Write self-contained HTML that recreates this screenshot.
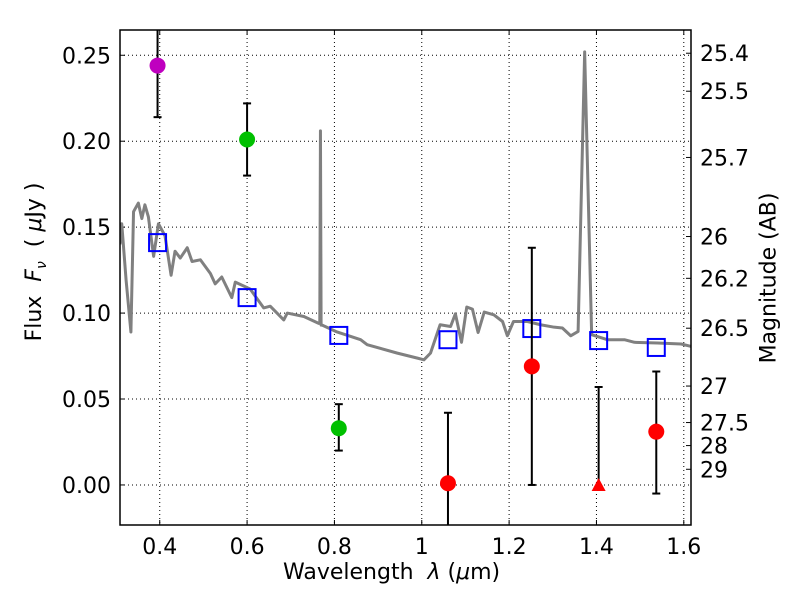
<!DOCTYPE html>
<html><head><meta charset="utf-8"><style>
body{margin:0;background:#fff;}
svg{display:block;font-family:"DejaVu Sans","Liberation Sans",sans-serif;}
</style></head><body>
<svg id="chart" width="800" height="600"></svg>
<script>
const specLam=[0.309,0.313,0.323,0.334,0.340,0.351,0.359,0.366,0.374,0.386,0.397,0.412,0.426,0.435,0.447,0.463,0.474,0.493,0.516,0.527,0.542,0.565,0.573,0.607,0.638,0.653,0.684,0.692,0.730,0.764,0.7665,0.768,0.7695,0.772,0.806,0.860,0.875,0.944,0.990,1.005,1.020,1.042,1.066,1.077,1.091,1.103,1.116,1.129,1.143,1.165,1.185,1.196,1.210,1.242,1.272,1.303,1.322,1.341,1.358,1.373,1.389,1.425,1.464,1.487,1.540,1.594,1.617];
const specFlux=[0.140,0.152,0.119,0.089,0.159,0.164,0.155,0.163,0.156,0.133,0.152,0.145,0.122,0.136,0.132,0.138,0.130,0.131,0.123,0.117,0.121,0.109,0.118,0.114,0.103,0.104,0.096,0.100,0.098,0.094,0.094,0.206,0.093,0.093,0.089,0.0845,0.0816,0.0767,0.0738,0.0728,0.0767,0.0932,0.0922,0.0996,0.083,0.1035,0.1023,0.0887,0.1006,0.099,0.0951,0.0868,0.0951,0.0951,0.0932,0.0918,0.0913,0.0868,0.0893,0.252,0.0874,0.0845,0.0845,0.083,0.0826,0.082,0.0806];
const modelLam=[0.395,0.60,0.81,1.06,1.252,1.405,1.537];
const modelFlux=[0.141,0.109,0.087,0.0845,0.091,0.084,0.080];
const obsLam=[0.395,0.60,0.81,1.06,1.252,1.537];
const obsFlux=[0.244,0.201,0.033,0.001,0.069,0.031];
const obsLo=[0.214,0.180,0.020,-0.04,0.000,-0.005];
const obsHi=[0.274,0.222,0.047,0.042,0.138,0.066];
const obsColor=['#bf00bf','#00c000','#00c000','red','red','red'];
const limLam=[1.405];const limFlux=[0.0];const limHi=[0.057];
const xTicks=[0.4,0.6,0.8,1.0,1.2,1.4,1.6];
const xTickLabels=['0.4','0.6','0.8','1','1.2','1.4','1.6'];
const yTicks=[0,0.05,0.10,0.15,0.20,0.25];
const yTickLabels=['0.00','0.05','0.10','0.15','0.20','0.25'];
const magTicks=[25.4,25.5,25.7,26,26.2,26.5,27,27.5,28,29];

const L=120,R=691,T=30,B=525,xmin=0.309,xmax=1.6165,ymin=-0.0233,ymax=0.2647;
const X=v=>L+(v-xmin)/(xmax-xmin)*(R-L);
const Y=v=>B-(v-ymin)/(ymax-ymin)*(B-T);
const svg=document.getElementById('chart');const NS='http://www.w3.org/2000/svg';
function mk(tag,attrs,parent){const e=document.createElementNS(NS,tag);for(const k in attrs)e.setAttribute(k,attrs[k]);(parent||svg).appendChild(e);return e;}
const clip=mk('clipPath',{id:'pc'});mk('rect',{x:L,y:T,width:R-L,height:B-T},clip);
xTicks.forEach((t,i)=>{
 const g=mk('line',{x1:X(t),x2:X(t),y1:T,y2:B,stroke:'#000','stroke-width':1,'stroke-dasharray':'1,3'});
 
 mk('line',{x1:X(t),x2:X(t),y1:B,y2:B-5,stroke:'#000'});mk('line',{x1:X(t),x2:X(t),y1:T,y2:T+5,stroke:'#000'});
 const tx=mk('text',{x:X(t),y:B+29,'text-anchor':'middle','font-size':22});tx.textContent=xTickLabels[i];
 
});
yTicks.forEach((t,i)=>{
 const g=mk('line',{x1:L,x2:R,y1:Y(t),y2:Y(t),stroke:'#000','stroke-width':1,'stroke-dasharray':'1,3'});
 
 mk('line',{x1:L,x2:L+5,y1:Y(t),y2:Y(t),stroke:'#000'});
 const tx=mk('text',{x:L-9,y:Y(t)+8,'text-anchor':'end','font-size':22});tx.textContent=yTickLabels[i];
 
});
magTicks.forEach(m=>{
 const f=Math.pow(10,(23.9-m)/2.5);
 mk('line',{x1:R-5,x2:R,y1:Y(f),y2:Y(f),stroke:'#000'});
 const tx=mk('text',{x:R+9,y:Y(f)+8,'font-size':22});tx.textContent=String(m);
 
});
const g=mk('g',{'clip-path':'url(#pc)'});
const sp=mk('polyline',{points:specLam.map((l,i)=>X(l)+','+Y(specFlux[i])).join(' '),fill:'none',stroke:'#808080','stroke-width':3,'stroke-linejoin':'round'},g);

modelLam.forEach((l,i)=>{
 const r=mk('rect',{x:X(l)-8.5,y:Y(modelFlux[i])-8.5,width:17,height:17,fill:'none',stroke:'#0000ff','stroke-width':2},g);
 
});
obsLam.forEach((l,i)=>{
 const e=mk('line',{x1:X(l),x2:X(l),y1:Y(obsLo[i]),y2:Y(obsHi[i]),stroke:'#000','stroke-width':2},g);
 
 [obsLo[i],obsHi[i]].forEach(v=>mk('line',{x1:X(l)-4,x2:X(l)+4,y1:Y(v),y2:Y(v),stroke:'#000','stroke-width':2},g));
 const c=mk('circle',{cx:X(l),cy:Y(obsFlux[i]),r:8,fill:obsColor[i]},g);
 
});
limLam.forEach((l,i)=>{
 const e=mk('line',{x1:X(l),x2:X(l),y1:Y(limFlux[i]),y2:Y(limHi[i]),stroke:'#000','stroke-width':2},g);
 
 mk('line',{x1:X(l)-4,x2:X(l)+4,y1:Y(limHi[i]),y2:Y(limHi[i]),stroke:'#000','stroke-width':2},g);
 const x=X(l),y=Y(limFlux[i]);
 const t=mk('polygon',{points:`${x-7},${y+6} ${x+7},${y+6} ${x},${y-7}`,fill:'red'},g);
 
});
const fr=mk('rect',{x:L,y:T,width:R-L,height:B-T,fill:'none',stroke:'#000','stroke-width':1.5});

</script>
<div style="position:absolute;left:0;top:0;width:800px;height:600px;pointer-events:none;font-family:'DejaVu Sans','Liberation Sans',sans-serif;">
<div style="position:absolute;left:283px;top:560px;font-size:22px;">Wavelength&nbsp; <i>λ</i> (<i>μ</i>m)</div>
<div style="position:absolute;left:36px;top:262px;font-size:22px;transform:translate(-50%,-50%) rotate(-90deg);white-space:nowrap;">Flux&nbsp; <i>F<sub style="font-size:14px">ν</sub></i>&nbsp; ( <i>μ</i>Jy )</div>
<div style="position:absolute;left:769px;top:278px;font-size:22px;transform:translate(-50%,-50%) rotate(-90deg);white-space:nowrap;">Magnitude (AB)</div>
</div>
</body></html>
